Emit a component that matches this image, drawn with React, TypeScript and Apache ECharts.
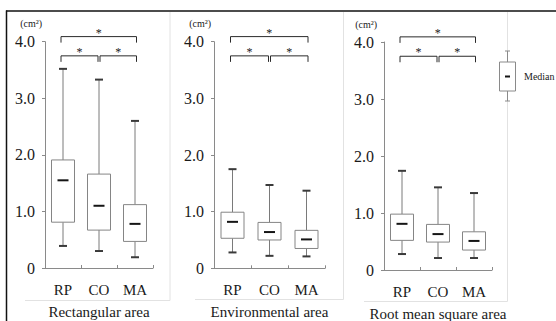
import React, { useEffect, useRef } from 'react';
import * as echarts from 'echarts';

const categories = ['RP', 'CO', 'MA'];
// [low whisker, Q1, median, Q3, high whisker]
const rectangularArea = [
  [0.39, 0.81, 1.55, 1.91, 3.52],
  [0.30, 0.67, 1.10, 1.66, 3.33],
  [0.19, 0.47, 0.78, 1.12, 2.60],
];
const environmentalArea = [
  [0.28, 0.53, 0.82, 0.99, 1.75],
  [0.22, 0.50, 0.64, 0.81, 1.47],
  [0.21, 0.35, 0.51, 0.67, 1.37],
];
const rmsArea = [
  [0.28, 0.52, 0.81, 0.98, 1.74],
  [0.21, 0.49, 0.63, 0.80, 1.45],
  [0.21, 0.35, 0.51, 0.67, 1.35],
];
const panelTitles = ['Rectangular area', 'Environmental area', 'Root mean square area'];
const panelData = [rectangularArea, environmentalArea, rmsArea];
// [from category, to category, bracket level (cm²)]
const comparisons = [
  [0, 2, 4.09],
  [0, 1, 3.75],
  [1, 2, 3.75],
];
const yTickValues = [0, 1, 2, 3, 4];
const unitLabel = '(cm²)';
const legendLabel = 'Median';

const FONT = 'Liberation Serif';
const TEXT = '#1a1a1a';
const AXIS = '#8a8a8a';

const grids = [
  { left: 45, top: 41.7, width: 108, height: 226.3 },
  { left: 214, top: 41.7, width: 111, height: 226.6 },
  { left: 384, top: 42, width: 108, height: 228 },
];

function renderBox(params: any, api: any) {
  const idx = api.value(0);
  const x = api.coord([idx, 0])[0];
  const yLow = api.coord([idx, api.value(1)])[1];
  const yQ1 = api.coord([idx, api.value(2)])[1];
  const yMed = api.coord([idx, api.value(3)])[1];
  const yQ3 = api.coord([idx, api.value(4)])[1];
  const yHigh = api.coord([idx, api.value(5)])[1];
  const bw = 23;
  const cap = 4;
  const med = 5.5;
  return {
    type: 'group',
    children: [
      { type: 'line', shape: { x1: x, y1: yHigh, x2: x, y2: yQ3 }, style: { stroke: '#7a7a7a', lineWidth: 1 } },
      { type: 'line', shape: { x1: x, y1: yQ1, x2: x, y2: yLow }, style: { stroke: '#7a7a7a', lineWidth: 1 } },
      { type: 'rect', shape: { x: x - bw / 2, y: yQ3, width: bw, height: yQ1 - yQ3 }, style: { fill: '#fff', stroke: '#858585', lineWidth: 1 } },
      { type: 'line', shape: { x1: x - med, y1: yMed, x2: x + med, y2: yMed }, style: { stroke: '#151515', lineWidth: 2 } },
      { type: 'line', shape: { x1: x - cap, y1: yHigh, x2: x + cap, y2: yHigh }, style: { stroke: '#3a3a3a', lineWidth: 2 } },
      { type: 'line', shape: { x1: x - cap, y1: yLow, x2: x + cap, y2: yLow }, style: { stroke: '#3a3a3a', lineWidth: 2 } },
    ],
  };
}

function renderBracket(params: any, api: any) {
  const a = api.value(0);
  const b = api.value(1);
  const level = api.value(2);
  const y = api.coord([a, level])[1];
  const xa = api.coord([a, level])[0] + (a === 0 ? -2 : 1);
  const xb = api.coord([b, level])[0] + (b === 2 ? 1.5 : -1);
  const drop = 6;
  return {
    type: 'group',
    children: [
      {
        type: 'polyline',
        shape: { points: [[xa, y + drop], [xa, y], [xb, y], [xb, y + drop]] },
        style: { stroke: '#2a2a2a', lineWidth: 1, fill: 'none' },
      },
      {
        type: 'text',
        style: {
          text: '*',
          x: (xa + xb) / 2,
          y: y - 4,
          align: 'center',
          verticalAlign: 'middle',
          fontSize: 12,
          fontFamily: FONT,
          fill: TEXT,
        },
      },
    ],
  };
}

function buildOption() {
  const grid = grids.map((g) => ({ ...g, containLabel: false, outerBoundsMode: 'none' }));
  const xAxis = grids.map((_, i) => ({
    type: 'category',
    gridIndex: i,
    data: categories,
    boundaryGap: true,
    axisLine: { show: true, lineStyle: { color: AXIS, width: 1 } },
    axisTick: { show: true, inside: true, length: 3, alignWithLabel: false, lineStyle: { color: AXIS } },
    axisLabel: { fontSize: 15, fontFamily: FONT, color: TEXT, margin: 14 },
    splitLine: { show: false },
    name: panelTitles[i],
    nameLocation: 'middle',
    nameGap: 44,
    nameTextStyle: { fontSize: 15, fontFamily: FONT, color: TEXT, verticalAlign: 'middle' },
  }));
  const yAxis = grids.map((_, i) => ({
    type: 'value',
    gridIndex: i,
    min: yTickValues[0],
    max: yTickValues[yTickValues.length - 1],
    interval: 1,
    axisLine: { show: true, lineStyle: { color: AXIS, width: 1 } },
    axisTick: { show: true, inside: false, length: 3, lineStyle: { color: AXIS } },
    axisLabel: {
      fontSize: 16,
      fontFamily: FONT,
      color: TEXT,
      margin: 10,
      formatter: (v: number) => (v === 0 ? '0' : v.toFixed(1)),
    },
    splitLine: { show: false },
    name: unitLabel,
    nameLocation: 'end',
    nameGap: 18,
    nameTextStyle: {
      fontSize: 10,
      fontFamily: FONT,
      color: TEXT,
      align: 'right',
      verticalAlign: 'middle',
      padding: [0, i === 2 ? 7 : 3, 0, 0],
    },
  }));
  const series: any[] = [];
  panelData.forEach((rows, i) => {
    series.push({
      type: 'custom',
      xAxisIndex: i,
      yAxisIndex: i,
      clip: false,
      renderItem: renderBox,
      encode: { x: 0, y: [1, 2, 3, 4, 5] },
      data: rows.map((r, k) => [k, ...r]),
    });
    series.push({
      type: 'custom',
      xAxisIndex: i,
      yAxisIndex: i,
      clip: false,
      renderItem: renderBracket,
      encode: { x: [0, 1], y: 2 },
      data: comparisons,
    });
  });

  const frame = '#e2e2e2';
  const graphic: any[] = [
    // light panel frames
    { type: 'line', shape: { x1: 170, y1: 12, x2: 170, y2: 300.5 }, style: { stroke: frame, lineWidth: 1 } },
    { type: 'line', shape: { x1: 25, y1: 300.5, x2: 170, y2: 300.5 }, style: { stroke: frame, lineWidth: 1 } },
    { type: 'line', shape: { x1: 343.5, y1: 12, x2: 343.5, y2: 299.5 }, style: { stroke: frame, lineWidth: 1 } },
    { type: 'line', shape: { x1: 195, y1: 299.5, x2: 343.5, y2: 299.5 }, style: { stroke: frame, lineWidth: 1 } },
    { type: 'line', shape: { x1: 507.5, y1: 12, x2: 507.5, y2: 301.5 }, style: { stroke: frame, lineWidth: 1 } },
    { type: 'line', shape: { x1: 364, y1: 301.5, x2: 507.5, y2: 301.5 }, style: { stroke: frame, lineWidth: 1 } },
    // outer border
    { type: 'line', shape: { x1: 6, y1: 11, x2: 556, y2: 11 }, style: { stroke: '#111', lineWidth: 1.5 } },
    { type: 'line', shape: { x1: 6.5, y1: 10.5, x2: 6.5, y2: 321 }, style: { stroke: '#111', lineWidth: 1.5 } },
    // legend glyph
    { type: 'line', shape: { x1: 507.5, y1: 51, x2: 507.5, y2: 101 }, style: { stroke: '#8a8a8a', lineWidth: 1 } },
    { type: 'line', shape: { x1: 505, y1: 51, x2: 510, y2: 51 }, style: { stroke: '#8a8a8a', lineWidth: 1 } },
    { type: 'line', shape: { x1: 505, y1: 101, x2: 510, y2: 101 }, style: { stroke: '#8a8a8a', lineWidth: 1 } },
    { type: 'rect', shape: { x: 499.5, y: 62, width: 16, height: 29 }, style: { fill: '#fff', stroke: '#8a8a8a', lineWidth: 1 } },
    { type: 'line', shape: { x1: 505, y1: 76.5, x2: 510, y2: 76.5 }, style: { stroke: '#151515', lineWidth: 2 } },
    {
      type: 'text',
      style: { text: legendLabel, x: 524, y: 76, align: 'left', verticalAlign: 'middle', fontSize: 10, fontFamily: FONT, fill: TEXT },
    },
  ];

  return {
    animation: false,
    backgroundColor: '#fff',
    textStyle: { fontFamily: FONT },
    grid,
    xAxis,
    yAxis,
    series,
    graphic,
  };
}

export default function App() {
  const ref = useRef<HTMLDivElement>(null);
  useEffect(() => {
    if (!ref.current) return;
    const chart = echarts.init(ref.current, null, { renderer: 'svg' });
    chart.setOption(buildOption() as any);
    return () => chart.dispose();
  }, []);
  return (
    <div
      ref={ref}
      style={{ position: 'absolute', left: 0, top: 0, width: 556, height: 321, background: '#fff' }}
    />
  );
}
